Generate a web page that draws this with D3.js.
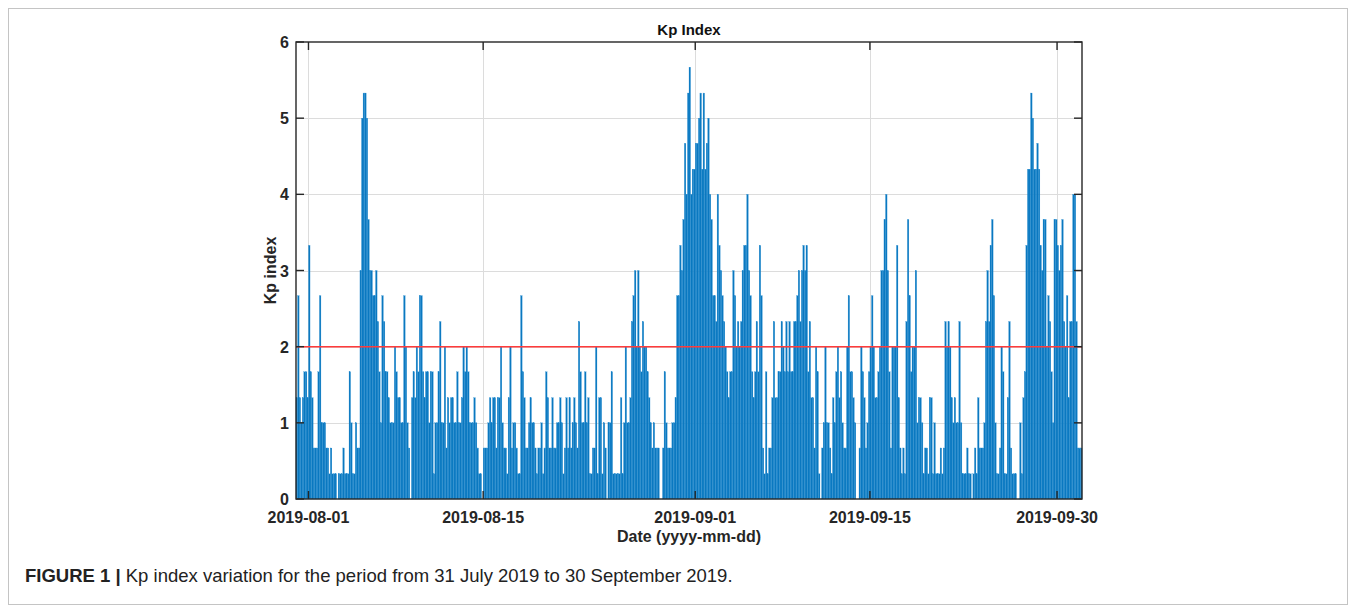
<!DOCTYPE html>
<html>
<head>
<meta charset="utf-8">
<script src="https://cdn.jsdelivr.net/npm/d3@7"></script>
<style>
  body { margin: 0; background: #fff; }
  svg text { font-family: "Liberation Sans", Arial, sans-serif; }
</style>
</head>
<body>
<div id="chart"></div>
<script>
// Kp index, 3-hourly values, one row per day starting 2019-07-31
const startDay = "2019-07-31";
const endDay = "2019-10-02";
const kpValues = [
  1.33, 2.67, 1.33, 1.0, 1.33, 1.67, 1.67, 1.33,   // 07-31
  3.33, 1.67, 1.33, 0.67, 0.67, 0.67, 1.67, 2.67,  // 08-01
  1.0, 1.0, 1.0, 0.67, 0.67, 0.33, 0.67, 0.33,
  0.33, 0.33, 0, 0.33, 0.33, 0.33, 0.67, 0.33,
  0.33, 0.33, 1.67, 1.0, 0.33, 0.33, 1.0, 0.67,
  0.67, 3.0, 5.0, 5.33, 5.33, 5.0, 3.67, 3.0,      // 08-05
  3.0, 2.67, 2.67, 3.0, 2.33, 1.67, 1.0, 2.67,
  2.33, 1.67, 1.67, 1.33, 1.0, 1.0, 1.0, 2.0,
  1.67, 1.33, 1.33, 1.0, 1.0, 2.67, 2.0, 1.0,
  0.67, 0, 1.33, 1.67, 1.33, 2.0, 1.67, 2.67,
  2.67, 1.67, 1.33, 1.67, 1.67, 1.0, 1.67, 1.67,   // 08-10
  0.33, 1.0, 1.0, 1.67, 2.33, 1.0, 1.0, 2.0,
  0.67, 1.33, 1.0, 1.33, 1.33, 1.0, 1.0, 1.67,
  1.0, 1.0, 1.33, 2.0, 1.67, 2.0, 1.67, 1.0,
  1.0, 1.0, 1.33, 1.0, 0.67, 0.33, 0.33, 0,
  0.67, 0.67, 0.67, 1.0, 1.33, 1.0, 1.33, 1.33,    // 08-15
  0.67, 1.33, 1.33, 2.0, 1.0, 0.67, 0.67, 0.33,
  1.33, 2.0, 0.67, 1.0, 1.0, 0.67, 0.33, 0.33,
  2.67, 1.67, 1.33, 0.67, 0.67, 1.0, 1.33, 1.0,
  1.0, 0.67, 0.33, 0.67, 0.67, 1.0, 0.33, 0.67,
  1.67, 1.33, 0.67, 0.67, 1.33, 0.67, 0.67, 1.0,   // 08-20
  1.0, 1.33, 1.0, 0.33, 0.67, 1.33, 0.67, 1.33,
  0.67, 1.0, 1.33, 1.0, 0.67, 2.33, 1.67, 1.0,
  1.0, 1.67, 1.0, 1.33, 0.33, 0.33, 0.67, 0.67,
  2.0, 0.33, 1.33, 1.33, 0.33, 1.0, 0.67, 0,
  1.0, 1.0, 1.67, 0.33, 0.33, 0.33, 0.33, 0.33,    // 08-25
  1.33, 0.33, 1.0, 2.0, 1.0, 1.0, 1.33, 2.33,
  2.67, 3.0, 2.0, 3.0, 2.0, 1.67, 2.33, 2.0,
  2.0, 1.67, 1.33, 1.0, 0.67, 1.0, 0.67, 0.67,
  0.67, 0, 0, 0.67, 1.67, 1.0, 0.67, 0.67,
  0.67, 1.0, 1.0, 1.33, 2.67, 2.67, 3.33, 3.0,     // 08-30
  3.67, 4.67, 4.0, 5.33, 5.67, 4.0, 4.33, 4.33,
  4.67, 4.67, 5.0, 5.33, 4.33, 5.33, 4.33, 4.67,   // 09-01
  5.0, 4.0, 3.67, 2.67, 2.67, 2.33, 4.0, 3.33,
  3.0, 2.67, 2.33, 2.0, 1.67, 1.33, 1.67, 1.67,
  3.0, 2.67, 2.0, 2.33, 2.0, 2.33, 3.0, 3.33,
  3.33, 4.0, 3.0, 2.67, 1.67, 1.33, 1.67, 2.33,    // 09-05
  1.67, 3.33, 2.67, 0.67, 0.33, 1.67, 0.33, 0.67,
  0.67, 1.33, 2.33, 1.33, 1.33, 1.67, 1.67, 2.33,
  2.0, 1.67, 2.33, 1.67, 2.33, 1.67, 1.67, 2.33,
  2.33, 2.67, 3.0, 2.33, 3.0, 3.33, 3.0, 3.33,
  1.67, 2.33, 1.33, 1.33, 0.67, 2.0, 1.67, 0.33,   // 09-10
  0, 0.67, 1.0, 2.0, 1.0, 1.0, 0.67, 0.33,
  1.33, 1.0, 1.67, 2.0, 1.33, 1.67, 1.0, 0.67,
  0.67, 2.0, 2.67, 1.67, 1.67, 1.33, 1.0, 0,
  0, 0.67, 2.0, 1.67, 1.33, 0.67, 1.0, 1.67,
  2.0, 2.67, 2.0, 1.33, 1.33, 1.67, 2.0, 3.0,      // 09-15
  3.0, 3.67, 4.0, 3.0, 1.67, 0.67, 2.0, 2.0,
  2.0, 3.33, 1.33, 0.67, 0.33, 0.67, 0.33, 2.33,
  3.67, 2.67, 1.67, 2.0, 2.0, 3.0, 1.0, 1.33,
  1.33, 1.0, 0.33, 0.67, 0.67, 0.33, 1.33, 1.33,
  0.33, 1.0, 0.33, 0.33, 0.33, 0.67, 0.33, 0.67,   // 09-20
  2.33, 2.0, 2.33, 2.0, 1.33, 1.0, 1.33, 1.0,
  1.0, 2.33, 1.0, 0.33, 0.33, 0.33, 0.67, 0.33,
  0.33, 0, 0.33, 0.67, 0.33, 1.33, 0.67, 0.67,
  0.67, 1.0, 2.33, 3.0, 2.33, 3.33, 3.67, 2.67,
  1.0, 0.33, 0.33, 0.67, 2.0, 1.67, 0.33, 0.33,    // 09-25
  1.33, 2.33, 0.67, 0.33, 0.33, 0.33, 0, 0,
  1.0, 0.33, 1.33, 1.67, 3.33, 4.33, 4.33, 5.33,
  5.0, 4.33, 4.33, 4.67, 4.33, 3.33, 3.0, 3.67,
  3.67, 2.0, 2.67, 2.33, 1.67, 1.0, 3.67, 3.67,
  3.33, 3.0, 3.33, 3.67, 2.33, 2.0, 2.67, 1.33,    // 09-30
  2.33, 2.33, 4.0, 4.0, 2.33, 0.67, 0.67, 0.67
];
const xTickDates = ["2019-08-01", "2019-08-15", "2019-09-01", "2019-09-15", "2019-09-30"];
const yTicks = [0, 1, 2, 3, 4, 5, 6];
const threshold = 2;

const width = 1356, height = 610;
const margin = {top: 42, right: 274, bottom: 111, left: 296};

const svg = d3.select("#chart").append("svg")
    .attr("width", width)
    .attr("height", height);

// figure frame
svg.append("rect")
    .attr("x", 8.5).attr("y", 8.5)
    .attr("width", 1339).attr("height", 596)
    .attr("fill", "none")
    .attr("stroke", "#c4c4c4");

const parse = d3.utcParse("%Y-%m-%d");
const t0 = parse(startDay);
const data = kpValues.map((v, i) => ({t: d3.utcHour.offset(t0, i * 3), v: v}));

const x = d3.scaleUtc()
    .domain([t0, parse(endDay)])
    .range([margin.left, width - margin.right]);
const y = d3.scaleLinear()
    .domain([0, 6])
    .range([height - margin.bottom, margin.top]);

const x0 = margin.left, x1 = width - margin.right;
const y0 = height - margin.bottom, y1 = margin.top;
const xTicks = xTickDates.map(parse);

// grid
const grid = svg.append("g").attr("stroke", "#dcdcdc").attr("stroke-width", 1);
grid.selectAll("line.gx")
    .data(xTicks)
    .join("line")
      .attr("x1", d => Math.round(x(d)) + 0.5).attr("x2", d => Math.round(x(d)) + 0.5)
      .attr("y1", y1).attr("y2", y0);
grid.selectAll("line.gy")
    .data(yTicks.slice(1, -1))
    .join("line")
      .attr("x1", x0).attr("x2", x1)
      .attr("y1", d => Math.round(y(d)) + 0.5).attr("y2", d => Math.round(y(d)) + 0.5);

// bars
svg.append("g")
  .selectAll("rect")
  .data(data.filter(d => d.v > 0))
  .join("rect")
    .attr("x", d => x(d.t))
    .attr("width", d => x(d3.utcHour.offset(d.t, 3)) - x(d.t))
    .attr("y", d => y(d.v))
    .attr("height", d => y(0) - y(d.v))
    .attr("fill", "#0a78c0")
    .attr("stroke", "#2a8fd2")
    .attr("stroke-width", 0.25);

// threshold line
svg.append("line")
    .attr("x1", x0).attr("x2", x1)
    .attr("y1", y(threshold)).attr("y2", y(threshold))
    .attr("stroke", "#ff3b3b")
    .attr("stroke-width", 1.5);

// axes box
svg.append("rect")
    .attr("x", x0).attr("y", y1)
    .attr("width", x1 - x0).attr("height", y0 - y1)
    .attr("fill", "none")
    .attr("stroke", "#262626")
    .attr("stroke-width", 1.4);

const tickLen = 8;
const ticks = svg.append("g").attr("stroke", "#262626").attr("stroke-width", 1.4);
ticks.selectAll("line.xb")
    .data(xTicks)
    .join("line")
      .attr("x1", d => x(d)).attr("x2", d => x(d))
      .attr("y1", y0).attr("y2", y0 - tickLen);
ticks.selectAll("line.xt")
    .data(xTicks)
    .join("line")
      .attr("x1", d => x(d)).attr("x2", d => x(d))
      .attr("y1", y1).attr("y2", y1 + tickLen);
ticks.selectAll("line.yl")
    .data(yTicks)
    .join("line")
      .attr("x1", x0).attr("x2", x0 + tickLen)
      .attr("y1", d => y(d)).attr("y2", d => y(d));
ticks.selectAll("line.yr")
    .data(yTicks)
    .join("line")
      .attr("x1", x1).attr("x2", x1 - tickLen)
      .attr("y1", d => y(d)).attr("y2", d => y(d));

const fmt = d3.utcFormat("%Y-%m-%d");
svg.append("g")
  .selectAll("text")
  .data(xTicks)
  .join("text")
    .attr("x", d => x(d))
    .attr("y", y0 + 24)
    .attr("text-anchor", "middle")
    .attr("font-size", 16)
    .attr("font-weight", "bold")
    .attr("fill", "#262626")
    .text(d => fmt(d));

svg.append("g")
  .selectAll("text")
  .data(yTicks)
  .join("text")
    .attr("x", x0 - 7)
    .attr("y", d => y(d) + 6)
    .attr("text-anchor", "end")
    .attr("font-size", 16)
    .attr("font-weight", "bold")
    .attr("fill", "#262626")
    .text(d => d);

svg.append("text")
    .attr("x", (x0 + x1) / 2)
    .attr("y", 35)
    .attr("text-anchor", "middle")
    .attr("font-size", 15)
    .attr("font-weight", "bold")
    .attr("fill", "#111")
    .text("Kp Index");

svg.append("text")
    .attr("x", (x0 + x1) / 2)
    .attr("y", 542)
    .attr("text-anchor", "middle")
    .attr("font-size", 16)
    .attr("font-weight", "bold")
    .attr("fill", "#262626")
    .text("Date (yyyy-mm-dd)");

svg.append("text")
    .attr("transform", `translate(276,${(y0 + y1) / 2}) rotate(-90)`)
    .attr("text-anchor", "middle")
    .attr("font-size", 16)
    .attr("font-weight", "bold")
    .attr("fill", "#262626")
    .text("Kp index");

// caption
const cap = svg.append("text")
    .attr("x", 25)
    .attr("y", 582)
    .attr("font-size", 18.5)
    .attr("fill", "#222");
cap.append("tspan").attr("font-weight", "bold").text("FIGURE 1 | ");
cap.append("tspan").text("Kp index variation for the period from 31 July 2019 to 30 September 2019.");
</script>
</body>
</html>
